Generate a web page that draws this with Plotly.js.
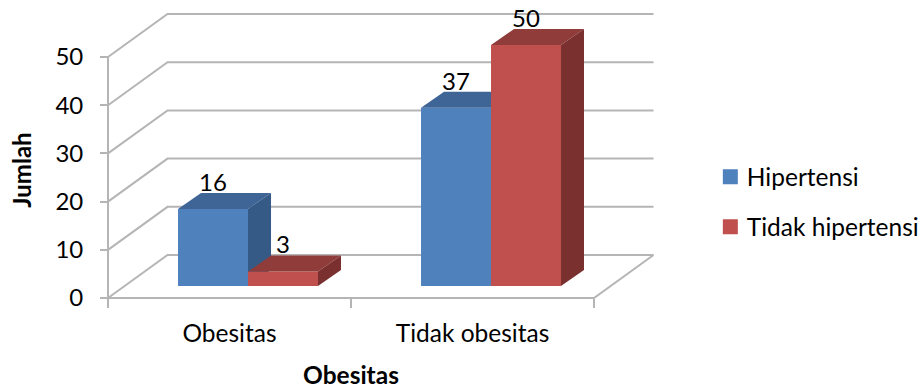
<!DOCTYPE html>
<html>
<head>
<meta charset="utf-8">
<script src="https://cdn.plot.ly/plotly-3.0.1.min.js"></script>
<style>
html,body{margin:0;padding:0;background:#fff}
#chart{width:923px;height:389px}
/* Slightly larger legend keys, sitting closer to their labels */
#chart g.legendpoints path{transform:translate(23.5px,0) scale(1.25)}
</style>
</head>
<body>
<div id="chart"></div>
<script>
const categories = ['Obesitas', 'Tidak obesitas'];
const hipertensi = [16, 37];
const tidakHipertensi = [3, 50];
const yTicks = [0, 10, 20, 30, 40, 50];
const xTitle = 'Obesitas';
const yTitle = 'Jumlah';

// Oblique projection, in axis units: how far the back wall and floor recede,
// how far bars stand in from the front edge, and how deep each bar is.
const wallDx = 0.2449, wallDy = 8.92;
const floorLift = 2.49;
const barDx = 0.0947, barDy = 3.32;
const barWidth = 0.288, clusterShift = 0.0761;
const labelDrop = 0.8;

const gridColor = '#b5b5b5';
const fontFamily = 'Lato, "Open Sans", sans-serif';

// Back wall and floor lines, then the two front axis lines
const gridX = [], gridY = [];
yTicks.forEach(v => {
  gridX.push(-0.5, -0.5 + wallDx, 1.5 + wallDx, null);
  gridY.push(v, v + wallDy, v + wallDy, null);
});
gridX.push(1.5 + wallDx, 1.5, -0.5, -0.5);
gridY.push(wallDy, 0, 0, 50);

function bar(name, values, offset, color, z) {
  return {
    type: 'bar', name, x: [0, 1], y: values, base: floorLift,
    width: barWidth, offset, zorder: z,
    marker: {color, line: {width: 0}}, legendgroup: name, hoverinfo: 'x+y+name'
  };
}
function face(values, offset, color, z, build) {
  const xs = [], ys = [];
  values.forEach((v, i) => {
    const left = i + offset, right = left + barWidth, top = v + floorLift;
    build(left, right, top).forEach(p => { xs.push(p[0]); ys.push(p[1]); });
    xs.push(null); ys.push(null);
  });
  return {
    type: 'scatter', mode: 'none', x: xs, y: ys, fill: 'toself', fillcolor: color,
    zorder: z, showlegend: false, hoverinfo: 'skip'
  };
}
const topFace = (l, r, t) => [[l, t], [r, t], [r + barDx, t + barDy], [l + barDx, t + barDy], [l, t]];
const sideFace = (l, r, t) => [[r, t], [r + barDx, t + barDy], [r + barDx, floorLift + barDy], [r, floorLift], [r, t]];

function labels(values, offset) {
  return {
    type: 'scatter', mode: 'text', x: [0, 1].map(i => i + offset + barWidth / 2),
    y: values.map(v => v + floorLift + barDy - labelDrop), text: values.map(String),
    textposition: 'top center', textfont: {family: fontFamily, size: 24, color: '#000'},
    zorder: 5, showlegend: false, hoverinfo: 'skip'
  };
}

const offsetA = clusterShift - barWidth, offsetB = clusterShift;
const traces = [
  {type: 'scatter', mode: 'lines', x: gridX, y: gridY, line: {color: gridColor, width: 2},
   zorder: 0, showlegend: false, hoverinfo: 'skip'},
  bar('Hipertensi', hipertensi, offsetA, '#4f81bd', 1),
  face(hipertensi, offsetA, '#3f6597', 1, topFace),
  face(hipertensi, offsetA, '#355a86', 1, sideFace),
  bar('Tidak hipertensi', tidakHipertensi, offsetB, '#c0504d', 2),
  face(tidakHipertensi, offsetB, '#8f3c3a', 2, topFace),
  face(tidakHipertensi, offsetB, '#7a302f', 2, sideFace),
  labels(hipertensi, offsetA),
  labels(tidakHipertensi, offsetB)
];

const layout = {
  width: 923, height: 389,
  margin: {l: 45, r: 266, t: 0, b: 49, pad: 0},
  paper_bgcolor: '#fff', plot_bgcolor: 'rgba(0,0,0,0)',
  barmode: 'overlay',
  font: {family: fontFamily, color: '#000', size: 24},
  showlegend: true,
  legend: {
    xref: 'container', yref: 'container',
    x: 0.7658, y: 0.603, xanchor: 'left', yanchor: 'top',
    traceorder: 'grouped', tracegroupgap: 15,
    font: {family: fontFamily, size: 24.5, color: '#000'},
    bgcolor: 'rgba(0,0,0,0)', itemclick: false, itemdoubleclick: false
  },
  xaxis: {
    range: [-0.7593, 1.7592], anchor: 'free', position: 0.1235,
    tickmode: 'array', tickvals: [0, 1], ticktext: categories,
    ticks: '', ticklabelstandoff: 18, showgrid: false, zeroline: false, showline: false,
    minor: {tick0: -0.5, dtick: 1, ticks: 'outside', ticklen: 9, tickwidth: 2, tickcolor: gridColor, showgrid: false},
    tickfont: {family: fontFamily, size: 24.5, color: '#000'},
    title: {text: xTitle, font: {family: fontFamily, size: 24.5, color: '#000', weight: 'bold'}, standoff: 23}
  },
  yaxis: {
    range: [-8.71, 61.83], anchor: 'free', position: 0.103,
    tickmode: 'array', tickvals: yTicks, ticktext: yTicks.map(String),
    ticks: 'outside', ticklen: 8, tickwidth: 2, tickcolor: gridColor, ticklabelstandoff: 12,
    showgrid: false, zeroline: false, showline: false,
    tickfont: {family: fontFamily, size: 24, color: '#000'},
    title: {text: yTitle, font: {family: fontFamily, size: 24, color: '#000', weight: 'bold'}, standoff: 15}
  }
};

Plotly.newPlot('chart', traces, layout, {displayModeBar: false, responsive: false});
</script>
</body>
</html>
